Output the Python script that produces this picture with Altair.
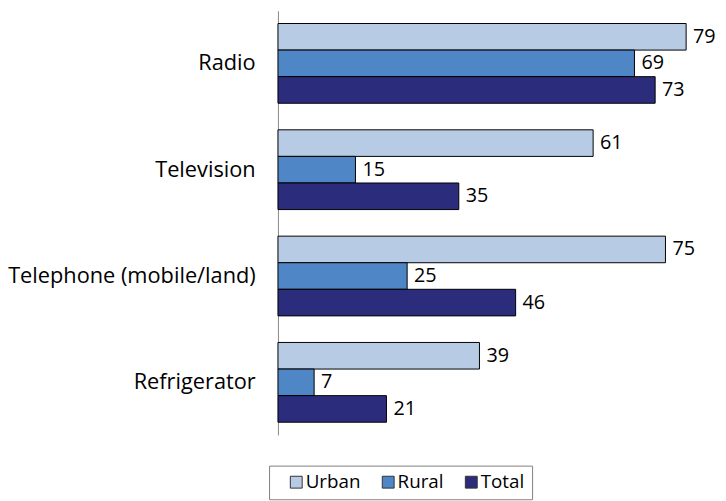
import altair as alt
import pandas as pd

categories = ["Radio", "Television", "Telephone (mobile/land)", "Refrigerator"]
series = ["Urban", "Rural", "Total"]
urban = [79, 61, 75, 39]
rural = [69, 15, 25, 7]
total = [73, 35, 46, 21]
colors = ["#b7cce4", "#4f86c6", "#2b2d7c"]

rows = []
for i, c in enumerate(categories):
    for s, vals in zip(series, [urban, rural, total]):
        rows.append({"Item": c, "Area": s, "Value": vals[i]})
df = pd.DataFrame(rows)

FONT = "Open Sans"

y_enc = alt.Y("Item:N", sort=categories, title=None,
              scale=alt.Scale(paddingInner=0.25, paddingOuter=0.12),
              axis=alt.Axis(ticks=False, domainColor="#888888", domainWidth=1,
                            labelFontSize=22, labelColor="#000000", labelFont=FONT,
                            labelPadding=23, labelLimit=400))
yoff = alt.YOffset("Area:N", sort=series, scale=alt.Scale(paddingInner=0, paddingOuter=0))
x_enc = alt.X("Value:Q", scale=alt.Scale(domain=[0, 80]), axis=None)

bars = alt.Chart(df).mark_bar(stroke="#000000", strokeWidth=1).encode(
    x=x_enc, y=y_enc, yOffset=yoff,
    color=alt.Color("Area:N", sort=series,
                    scale=alt.Scale(domain=series, range=colors),
                    legend=alt.Legend(title=None, orient="none", direction="horizontal",
                                      legendX=-9, legendY=460,
                                      symbolType="square", symbolSize=144,
                                      symbolStrokeColor="#333333", symbolStrokeWidth=1,
                                      symbolOffset=11,
                                      labelFontSize=19, labelFont=FONT, labelColor="#000000",
                                      columnPadding=7, labelOffset=0,
                                      strokeColor="#808080", padding=7))
)

labels = alt.Chart(df).mark_text(align="left", baseline="middle", dx=7, fontSize=20,
                                 font=FONT, color="#000000").encode(
    x=x_enc, y=y_enc, yOffset=yoff, text="Value:Q"
)

chart = (bars + labels).properties(
    width=418, height=429,
    autosize=alt.AutoSizeParams(type="none"),
    padding={"left": 273, "top": 0, "right": 27, "bottom": 64},
).configure_view(stroke=None)

chart.save("out.html", embed_options={"renderer": "svg", "actions": False})
